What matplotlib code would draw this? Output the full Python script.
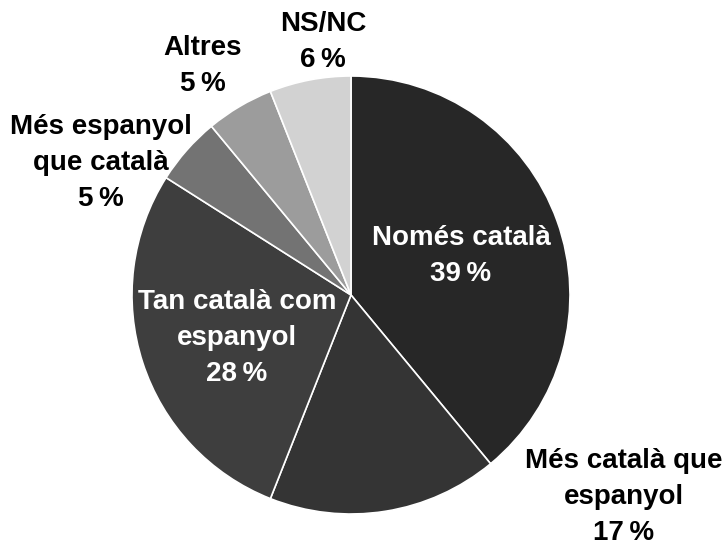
import matplotlib.pyplot as plt

labels = ["Només català", "Més català que\nespanyol", "Tan català com\nespanyol",
          "Més espanyol\nque català", "Altres", "NS/NC"]
values = [39, 17, 28, 5, 5, 6]
colors = ["#272727", "#343434", "#3e3e3e", "#737373", "#9c9c9c", "#d2d2d2"]

plt.rcParams["font.family"] = ["Liberation Sans", "DejaVu Sans"]

W, H = 724, 553
fig = plt.figure(figsize=(W / 100, H / 100), dpi=100)
ax = fig.add_axes([0, 0, 1, 1])

cx, cy, r = 351, H - 295, 219
ax.pie(values, colors=colors, startangle=90, counterclock=False,
       center=(cx, cy), radius=r, frame=True,
       wedgeprops=dict(edgecolor="white", linewidth=1.2))
ax.set_xlim(0, W)
ax.set_ylim(0, H)
ax.set_aspect("equal")
ax.axis("off")

# label centres in pixels (x, y from top) and text colour
label_pos = [(461, 256, "white"), (624, 497, "black"), (237, 338, "white"),
             (101, 163, "black"), (203, 66, "black"), (323, 42, "black")]

for lab, v, (x, y, c) in zip(labels, values, label_pos):
    ax.text(x, H - y, f"{lab}\n{v}\u2009%", ha="center", va="center", color=c,
            fontsize=20, fontweight="bold", linespacing=1.5)

fig.savefig("out.png", dpi=100)
